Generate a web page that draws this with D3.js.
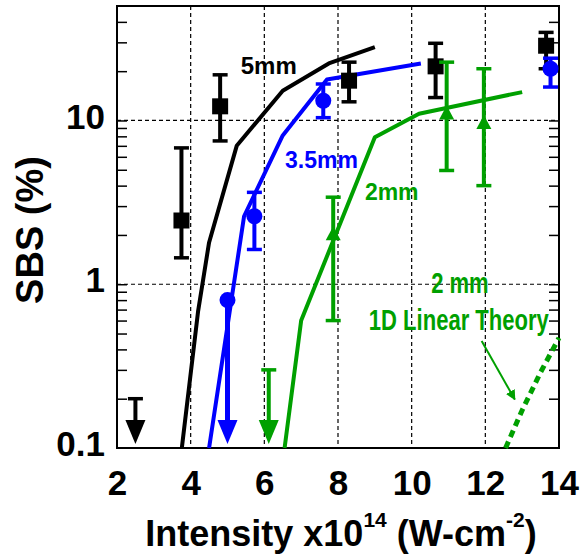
<!DOCTYPE html>
<html>
<head>
<meta charset="utf-8">
<script src="https://cdn.jsdelivr.net/npm/d3@7"></script>
<style>
  body { margin: 0; background: #fff; }
  text { font-family: Arial, "Liberation Sans", sans-serif; font-weight: bold; }
</style>
</head>
<body>
<div class="chart-box"></div>
<script>
/* Data: intensity in 1e14 W/cm2, SBS in % */
const xTicks = [2, 4, 6, 8, 10, 12, 14];
const yTicks = [0.1, 1, 10];
const yTickLabels = ["0.1", "1", "10"];
const xGrid = [4, 6, 8, 10, 12];
const yGrid = [1, 10];
const yMinor = [0.2, 0.3, 0.4, 0.5, 0.6, 0.7, 0.8, 0.9, 2, 3, 4, 5, 6, 7, 8, 9, 20, 30, 40];

// simulation curves
const curve5mmX = [3.76, 4.2, 4.5, 5.25, 6.5, 7.75, 9.0];
const curve5mmY = [0.1, 0.68, 1.8, 7.0, 15.2, 22.3, 28];
const curve35mmX = [4.5, 5.45, 6.5, 7.7, 10.25];
const curve35mmY = [0.1, 2.6, 8.1, 17.8, 22.3];
const curve2mmX = [6.55, 7.0, 9.0, 10.2, 13.0];
const curve2mmY = [0.1, 0.6, 7.9, 11, 14.9];
const theory2mmX = [12.55, 13.0, 13.5, 14.0];
const theory2mmY = [0.1, 0.17, 0.29, 0.47];

// measured points (5mm squares, 3.5mm circles, 2mm triangles)
const sq5mmX = [3.75, 4.8, 8.3, 10.65, 13.65];
const sq5mmY = [2.45, 12.2, 17.5, 21.4, 28.6];
const sq5mmLo = [1.45, 7.5, 13, 13.8, 20.7];
const sq5mmHi = [6.8, 19, 22.7, 29.6, 34.5];
const ci35mmX = [5.73, 7.6, 13.77];
const ci35mmY = [2.6, 13.2, 20.7];
const ci35mmLo = [1.63, 10.4, 16];
const ci35mmHi = [3.64, 16.7, 24];
const tr2mmX = [7.87, 10.95, 11.96];
const tr2mmY = [2.05, 11.2, 9.8];
const tr2mmLo = [0.6, 4.95, 4.0];
const tr2mmHi = [3.4, 22.7, 20.7];

// upper limits (arrow pointing down)
const limitX = [2.5, 5.0, 6.12];
const limitHi = [0.2, 0.8, 0.3];
const limitColor = ["#000", "#0000ff", "#00a000"];

const black = "#000", blue = "#0000ff", green = "#00a000";

/* Create SVG */
let width = 582, height = 555;
let svg = d3.select(".chart-box")
  .append("svg")
  .attr("width", width)
  .attr("height", height);

let x = d3.scaleLinear().domain([2, 14]).range([117, 559]);
let y = d3.scaleLog().domain([0.1, 50]).range([448, 6]);

/* Grid */
svg.append("g").selectAll("line")
  .data(xGrid).enter().append("line")
  .attr("x1", d => x(d)).attr("x2", d => x(d))
  .attr("y1", y(50)).attr("y2", y(0.1))
  .attr("stroke", "#000").attr("stroke-width", 1.2).attr("stroke-dasharray", "4,3");
svg.append("g").selectAll("line")
  .data(yGrid).enter().append("line")
  .attr("x1", x(2)).attr("x2", x(14))
  .attr("y1", d => y(d)).attr("y2", d => y(d))
  .attr("stroke", "#000").attr("stroke-width", 1.2).attr("stroke-dasharray", "4,3");

/* Minor ticks, inside on both sides */
let leftTicks = svg.append("g")
  .attr("transform", `translate(${x(2)},0)`)
  .call(d3.axisLeft(y).tickValues(yMinor.concat(yGrid)).tickSize(-10).tickFormat(""));
let rightTicks = svg.append("g")
  .attr("transform", `translate(${x(14)},0)`)
  .call(d3.axisRight(y).tickValues(yMinor.concat(yGrid)).tickSize(-10).tickFormat(""));
[leftTicks, rightTicks].forEach(g => {
  g.select(".domain").remove();
  g.selectAll("line").attr("stroke-width", 1.5);
});

/* Tick labels */
let xAxis = svg.append("g")
  .attr("transform", `translate(0,${y(0.1)})`)
  .call(d3.axisBottom(x).tickValues(xTicks).tickSize(0).tickPadding(22));
xAxis.select(".domain").remove();
xAxis.selectAll("text").attr("font-size", 35).attr("fill", "#000");

let yAxis = svg.append("g")
  .attr("transform", `translate(${x(2)},0)`)
  .call(d3.axisLeft(y).tickValues(yTicks).tickSize(0).tickPadding(12)
    .tickFormat((d, i) => yTickLabels[i]));
yAxis.select(".domain").remove();
yAxis.selectAll("text").attr("font-size", 35).attr("dy", "0.22em").attr("fill", "#000");
[xAxis, yAxis].forEach(g => g.attr("font-family", null).attr("font-size", null));

/* Frame */
svg.append("rect")
  .attr("x", x(2)).attr("y", y(50))
  .attr("width", x(14) - x(2)).attr("height", y(0.1) - y(50))
  .attr("fill", "none").attr("stroke", "#000").attr("stroke-width", 2);

/* Curves */
let line = d3.line().x(d => x(d[0])).y(d => y(d[1]));
function drawCurve(xs, ys, color, dash) {
  svg.append("path")
    .datum(d3.zip(xs, ys))
    .attr("d", line)
    .attr("fill", "none")
    .attr("stroke", color)
    .attr("stroke-width", dash ? 5 : 4)
    .attr("stroke-linejoin", "round")
    .attr("stroke-dasharray", dash || null);
}
drawCurve(curve5mmX, curve5mmY, black);
drawCurve(curve35mmX, curve35mmY, blue);
drawCurve(curve2mmX, curve2mmY, green);
drawCurve(theory2mmX, theory2mmY, green, "7,5");

/* Error bars */
function errorBars(xs, lo, hi, color) {
  let g = svg.append("g").attr("stroke", color);
  let idx = d3.range(xs.length);
  g.selectAll(".bar").data(idx).enter().append("line")
    .attr("x1", i => x(xs[i])).attr("x2", i => x(xs[i]))
    .attr("y1", i => y(lo[i])).attr("y2", i => y(hi[i]))
    .attr("stroke-width", 4);
  [lo, hi].forEach(arr => {
    g.selectAll(null).data(idx).enter().append("line")
      .attr("x1", i => x(xs[i]) - 7.5).attr("x2", i => x(xs[i]) + 7.5)
      .attr("y1", i => y(arr[i])).attr("y2", i => y(arr[i]))
      .attr("stroke-width", 3.5);
  });
}

/* Upper limits: bar from the limit down to a triangle on the axis */
limitX.forEach((v, i) => {
  let g = svg.append("g");
  let cx = x(v), base = y(0.1);
  g.append("line")
    .attr("x1", cx).attr("x2", cx)
    .attr("y1", y(limitHi[i])).attr("y2", base - 20)
    .attr("stroke", limitColor[i]).attr("stroke-width", i == 1 ? 5 : 4);
  if (i != 1) {
    g.append("line")
      .attr("x1", cx - 7.5).attr("x2", cx + 7.5)
      .attr("y1", y(limitHi[i])).attr("y2", y(limitHi[i]))
      .attr("stroke", limitColor[i]).attr("stroke-width", 3.5);
  } else {
    g.append("circle").attr("cx", cx).attr("cy", y(limitHi[i])).attr("r", 8).attr("fill", blue);
  }
  g.append("path")
    .attr("d", `M${cx - 10},${base - 28}L${cx + 10},${base - 28}L${cx},${base - 4}Z`)
    .attr("fill", limitColor[i]);
});

errorBars(sq5mmX, sq5mmLo, sq5mmHi, black);
svg.append("g").selectAll("rect")
  .data(d3.range(sq5mmX.length)).enter().append("rect")
  .attr("x", i => x(sq5mmX[i]) - 8).attr("y", i => y(sq5mmY[i]) - 8)
  .attr("width", 16).attr("height", 16)
  .attr("fill", black);

errorBars(ci35mmX, ci35mmLo, ci35mmHi, blue);
svg.append("g").selectAll("circle")
  .data(d3.range(ci35mmX.length)).enter().append("circle")
  .attr("cx", i => x(ci35mmX[i])).attr("cy", i => y(ci35mmY[i]))
  .attr("r", 8)
  .attr("fill", blue);

errorBars(tr2mmX, tr2mmLo, tr2mmHi, green);
svg.append("g").selectAll("path")
  .data(d3.range(tr2mmX.length)).enter().append("path")
  .attr("d", i => {
    let cx = x(tr2mmX[i]), cy = y(tr2mmY[i]);
    return `M${cx},${cy - 7}L${cx + 7.5},${cy + 7}L${cx - 7.5},${cy + 7}Z`;
  })
  .attr("fill", green);

/* Curve labels */
svg.append("text").attr("x", x(5.36)).attr("y", y(19.2))
  .attr("font-size", 24).attr("fill", black).text("5mm");
svg.append("text").attr("x", x(6.56)).attr("y", y(5.12))
  .attr("font-size", 23).attr("fill", blue).text("3.5mm");
svg.append("text").attr("x", x(8.73)).attr("y", y(3.27))
  .attr("font-size", 23).attr("fill", green).text("2mm");
// narrow lettering, squeezed horizontally
svg.append("text")
  .attr("transform", `translate(${x(11.31)},${y(0.88)}) scale(0.76,1)`)
  .attr("font-size", 29).attr("fill", green).attr("text-anchor", "middle")
  .text("2 mm");
svg.append("text")
  .attr("transform", `translate(${x(11.28)},${y(0.525)}) scale(0.76,1)`)
  .attr("font-size", 29).attr("fill", green).attr("text-anchor", "middle")
  .text("1D Linear Theory");

/* Arrow to theory curve */
svg.append("defs").append("marker")
  .attr("id", "head").attr("viewBox", "0 0 10 10")
  .attr("refX", 9).attr("refY", 5)
  .attr("markerWidth", 5).attr("markerHeight", 5)
  .attr("orient", "auto")
  .append("path").attr("d", "M0,0L10,5L0,10Z").attr("fill", green);
svg.append("line")
  .attr("x1", x(11.9)).attr("y1", y(0.45))
  .attr("x2", x(12.8)).attr("y2", y(0.198))
  .attr("stroke", green).attr("stroke-width", 2)
  .attr("marker-end", "url(#head)");

/* Axis titles */
svg.append("text")
  .attr("transform", "translate(43,230) rotate(-90)")
  .attr("text-anchor", "middle")
  .attr("font-size", 38)
  .text("SBS (%)");

let xt = svg.append("text")
  .attr("x", 341).attr("y", 546)
  .attr("text-anchor", "middle")
  .attr("font-size", 36);
xt.append("tspan").text("Intensity x10");
xt.append("tspan").attr("font-size", 21).attr("dy", -19).text("14");
xt.append("tspan").attr("dy", 19).text("\u00a0(W-cm");
xt.append("tspan").attr("font-size", 21).attr("dy", -19).text("-2");
xt.append("tspan").attr("dy", 19).text(")");
</script>
</body>
</html>
